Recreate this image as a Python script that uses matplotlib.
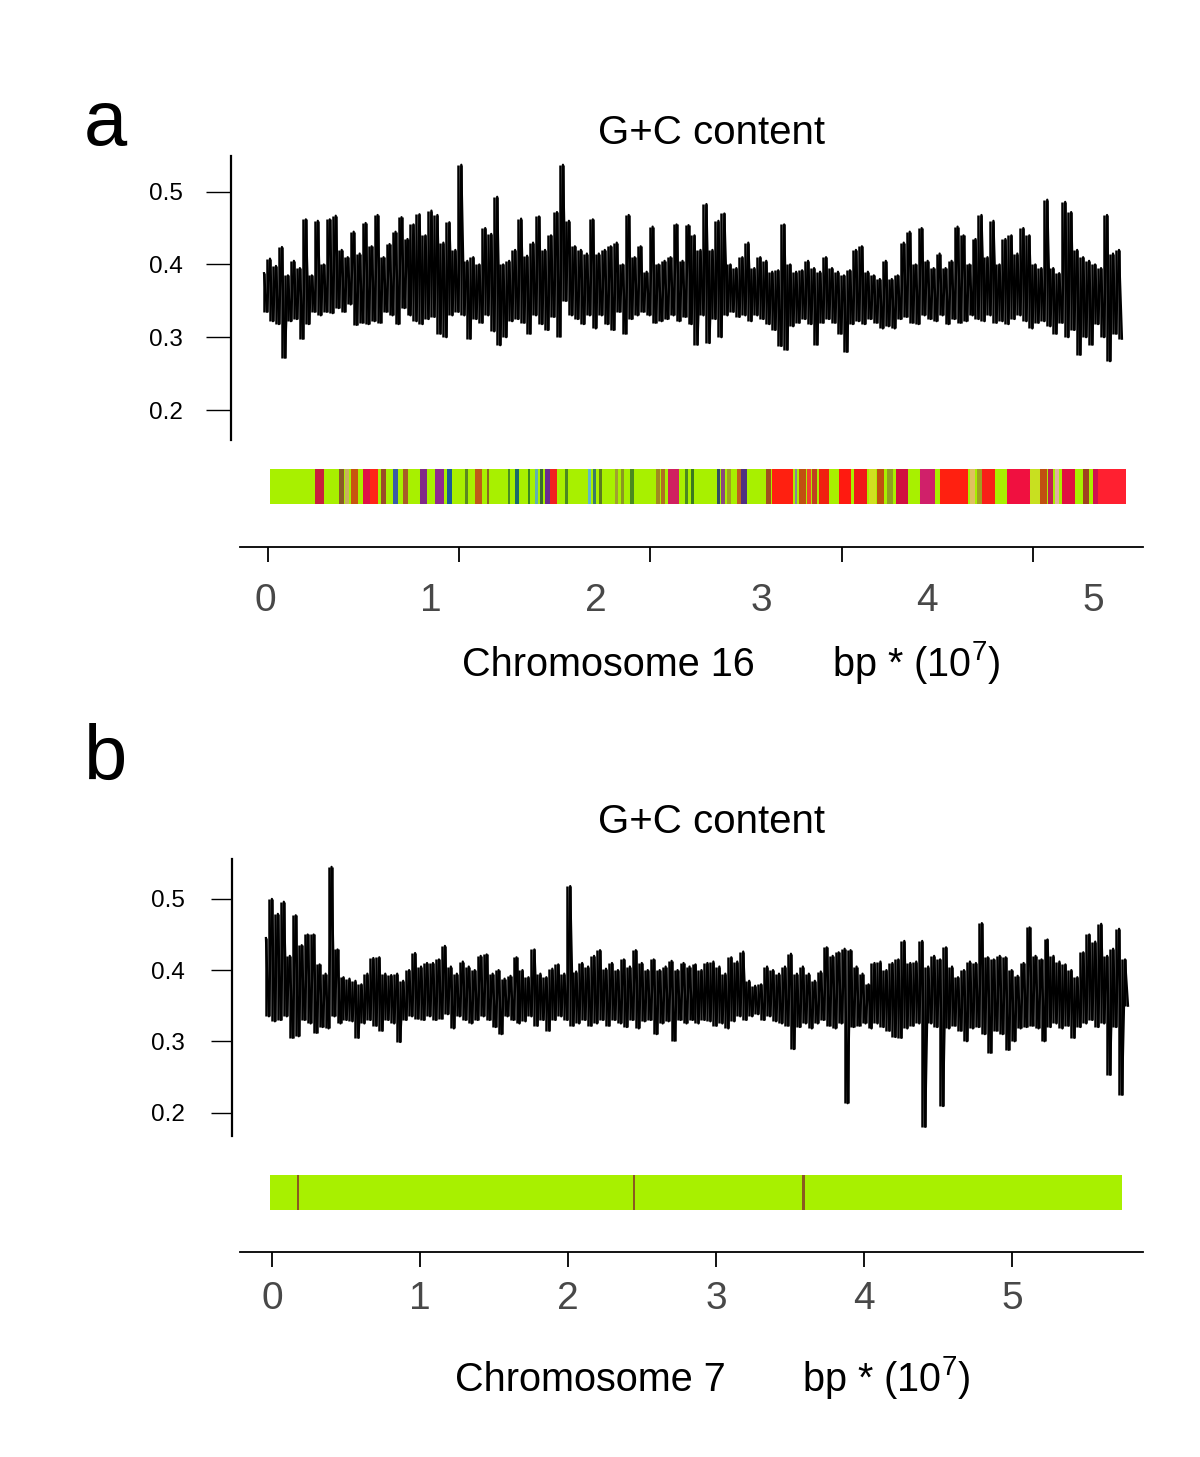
import numpy as np
import matplotlib.pyplot as plt

W, H = 1200, 1457
LIME = '#a8f000'
NARROW = ['Liberation Sans Narrow', 'Liberation Sans', 'DejaVu Sans']
plt.rcParams['font.family'] = ['Liberation Sans', 'DejaVu Sans']

# ---------------- panel a : chromosome 16 ----------------
# G+C trace read as alternating local maxima / minima (x1000)
gc_a_hi = [388, 408, 398, 424, 385, 405, 395, 462, 385, 460, 400, 462, 467, 420, 410, 445,
           415, 457, 425, 468, 410, 428, 445, 465, 435, 455, 469, 440, 474, 468, 430, 458,
           420, 537, 405, 410, 400, 450, 442, 493, 400, 405, 420, 463, 412, 430, 466, 420,
           440, 472, 537, 460, 425, 420, 415, 462, 415, 420, 425, 430, 400, 468, 410, 425,
           390,
           452, 400, 405, 410, 455, 405, 454, 440, 420, 483, 420, 460, 470, 400, 395, 410,
           430, 395, 410, 405, 390, 392, 455, 400, 390, 392, 405, 395, 390, 410, 395, 390,
           385, 392, 420, 425, 390, 385, 380, 405, 380, 385, 430, 445, 400, 450, 405, 395,
           415, 395, 405, 452, 440, 400, 435, 468, 410, 460, 400, 435, 440, 415, 450, 440,
           400, 395, 489, 395, 388, 486, 472, 420, 410, 405, 400, 395, 468, 415, 420]
gc_a_lo = [335, 322, 318, 272, 322, 325, 298, 318, 335, 330, 335, 333, 340, 335, 345, 317,
           320, 318, 322, 320, 335, 330, 318, 340, 330, 322, 318, 325, 328, 305, 300, 330,
           335, 330, 298, 325, 320, 330, 308, 289, 300, 322, 325, 320, 305, 330, 318, 310,
           328, 301, 350, 330, 325, 318, 330, 312, 330, 318, 310, 335, 305, 325, 330, 335,
           330,
           320, 322, 325, 330, 322, 328, 318, 290, 330, 292, 325, 300, 330, 335, 328, 330,
           322, 330, 325, 318, 310, 288, 283, 315, 320, 325, 318, 290, 320, 325, 320, 305,
           280, 318, 322, 318, 325, 320, 312, 315, 312, 325, 328, 320, 318, 330, 325, 322,
           330, 318, 325, 320, 322, 330, 325, 322, 330, 320, 322, 318, 325, 330, 322, 312,
           320, 322, 315, 305, 320, 300, 310, 276, 300, 290, 318, 300, 267, 305, 298]
trace_a = (-0.006, 5.175)          # 10^7 bp
band_a = (0.030, 5.199)
stripe_a_start = [0.302, 0.447, 0.483, 0.519, 0.592, 0.634, 0.701, 0.773, 0.833, 0.936,
                  1.027, 1.099, 1.208, 1.268, 1.341, 1.467, 1.510, 1.588, 1.631, 1.661,
                  1.691, 1.721, 1.812, 1.951, 1.981, 2.017, 2.114, 2.150, 2.204, 2.361,
                  2.391, 2.434, 2.536, 2.573, 2.730, 2.754, 2.790, 2.850, 2.875, 3.026,
                  3.062, 3.201, 3.225, 3.273, 3.303, 3.346, 3.466, 3.557, 3.647, 3.696,
                  3.756, 3.811, 3.955, 4.076, 4.257, 4.300, 4.330, 4.481, 4.620, 4.680,
                  4.728, 4.771, 4.813, 4.940, 5.000, 5.030]
stripe_a_end = [0.356, 0.477, 0.507, 0.562, 0.634, 0.682, 0.731, 0.803, 0.864, 0.978,
                1.081, 1.129, 1.226, 1.310, 1.353, 1.480, 1.534, 1.600, 1.649, 1.679,
                1.721, 1.763, 1.830, 1.969, 1.999, 2.035, 2.132, 2.168, 2.228, 2.385,
                2.415, 2.500, 2.554, 2.591, 2.748, 2.778, 2.814, 2.875, 2.911, 3.056,
                3.189, 3.213, 3.267, 3.297, 3.333, 3.406, 3.539, 3.635, 3.690, 3.738,
                3.792, 3.883, 4.046, 4.245, 4.288, 4.330, 4.408, 4.620, 4.680, 4.722,
                4.759, 4.795, 4.891, 4.976, 5.030, 5.199]
stripe_a_color = ['#c8203c', '#8a5a28', '#c8b060', '#c85410', '#e01048', '#ff2418', '#9a4a28',
                  '#3a5aa8', '#a85a28', '#802a88', '#902890', '#1a5a98', '#5a8a20', '#c05a18',
                  '#8a6a20', '#4a9020', '#1a6a6a', '#3a8a20', '#60b0b0', '#3a6a30', '#6a2a90',
                  '#f02020', '#4a8a20', '#60b8c8', '#3a7a6a', '#5a7a20', '#a0a030', '#8a9a20',
                  '#4a8a20', '#a08a20', '#b07020', '#d02060', '#4a8a20', '#3a7a20', '#305060',
                  '#8a4a7a', '#a0a020', '#c06020', '#503080', '#a05020', '#ff2010', '#8a80a0',
                  '#c05010', '#f04030', '#c04020', '#f02010', '#ff1a10', '#f01818', '#d0e020',
                  '#c05010', '#90a020', '#d01040', '#d0206a', '#ff2010', '#e0c060', '#a0a020',
                  '#f82018', '#f01040', '#c8e020', '#c05010', '#c02050', '#e0b0a0', '#e01040',
                  '#a04020', '#d01050', '#ff2030']

# ---------------- panel b : chromosome 7 ----------------
gc_b_hi = [445, 500, 479, 496, 420, 477, 435, 450, 450, 408, 395, 545, 429, 390, 388, 385,
           380, 395, 417, 418, 395, 393, 395, 385, 400, 424, 405, 410, 410, 415, 434, 405,
           395, 412, 405, 400, 420, 422, 395, 400, 388, 392, 418, 400, 390, 429, 395, 390,
           402, 408, 395, 518, 398, 410, 405, 420, 428, 402, 410, 400, 415, 405, 428, 410,
           400,
           415, 400, 405, 413, 400, 410, 405, 408, 400, 410, 412, 405, 395, 418, 412, 426,
           385, 378, 380, 405, 400, 395, 405, 423, 395, 405, 395, 385, 398, 432, 420, 425,
           430, 428, 405, 395, 380, 410, 412, 400, 410, 415, 441, 410, 412, 441, 405, 420,
           415, 432, 405, 390, 400, 412, 410, 466, 418, 415, 420, 418, 400, 392, 410, 460,
           420, 415, 443, 420, 412, 408, 400, 390, 425, 450, 440, 465, 420, 430, 458, 415]
gc_b_lo = [335, 328, 330, 335, 305, 307, 330, 325, 312, 320, 318, 335, 325, 330, 328, 305,
           325, 330, 322, 315, 330, 325, 299, 330, 335, 332, 330, 335, 330, 332, 338, 318,
           335, 330, 325, 330, 335, 330, 320, 310, 335, 330, 325, 328, 335, 322, 330, 315,
           330, 335, 330, 322, 325, 330, 322, 325, 330, 322, 330, 325, 320, 330, 318, 328,
           330,
           310, 325, 328, 301, 330, 325, 330, 325, 330, 328, 322, 325, 318, 328, 335, 330,
           335, 338, 330, 335, 328, 325, 322, 289, 320, 325, 318, 325, 330, 322, 318, 325,
           213, 320, 322, 325, 318, 325, 320, 315, 306, 305, 318, 322, 325, 180, 325, 320,
           209, 318, 322, 315, 300, 318, 320, 310, 284, 315, 310, 288, 300, 318, 320, 322,
           318, 300, 320, 325, 318, 322, 305, 320, 325, 330, 320, 325, 253, 320, 225, 350]
trace_b = (-0.041, 5.784)
band_b = (-0.014, 5.743)
stripe_b_start = [0.169, 2.439, 3.578]
stripe_b_end = [0.183, 2.453, 3.598]
stripe_b_color = ['#8a5a20', '#8a5a20', '#8a5a20']

tick_labels = ['0', '1', '2', '3', '4', '5']
y_ticks = [0.2, 0.3, 0.4, 0.5]


def box(l, t, r, b):
    return [l / W, 1 - b / H, (r - l) / W, (b - t) / H]


def draw_trace(ax, hi, lo, span):
    y = np.empty(2 * len(hi))
    y[0::2] = np.array(hi) / 1000
    y[1::2] = np.array(lo) / 1000
    x = np.linspace(span[0], span[1], len(y))
    # vertical strokes between neighbouring extremes fill the dense core
    ax.vlines(x[:-1], np.minimum(y[:-1], y[1:]), np.maximum(y[:-1], y[1:]),
              color='black', lw=1.8)
    ax.plot(x, y, color='black', lw=1.6)


def panel(fig, letter, p, hi, lo, span, band, s0, s1, cols):
    org, ppu = p['org'], p['ppu']
    xl = lambda l, r: ((l - org) / ppu, (r - org) / ppu)

    fig.text(84 / W, 1 - p['letter_y'] / H, letter, fontsize=56, va='baseline')
    fig.text(711 / W, 1 - p['title_y'] / H, 'G+C content', fontsize=29,
             ha='center', va='center')

    ax = fig.add_axes(box(p['spine_x'], p['top'], 1140, p['bot']))
    draw_trace(ax, hi, lo, span)
    ax.set_xlim(*xl(p['spine_x'], 1140))
    ax.set_ylim(*p['ylim'])
    for s in ['top', 'right', 'bottom']:
        ax.spines[s].set_visible(False)
    ax.spines['left'].set_linewidth(1.6)
    ax.set_xticks([])
    ax.set_yticks(y_ticks)
    ax.set_yticklabels(['%.1f' % v for v in y_ticks])
    ax.tick_params(axis='y', length=p['ytl'], width=1, pad=p['ypad'], labelsize=17.5)

    bx = fig.add_axes(box(240, p['band_t'], 1143, p['band_t'] + 35))
    bx.set_xlim(*xl(240, 1143))
    bx.set_ylim(0, 1)
    bx.axis('off')
    bx.broken_barh([(band[0], band[1] - band[0])], (0, 1), facecolors=LIME)
    bx.broken_barh([(a, b - a) for a, b in zip(s0, s1)], (0, 1), facecolors=cols)

    xa = fig.add_axes(box(240, p['axis_y'] - 30, 1143, p['axis_y']))
    xa.set_xlim(*xl(240, 1143))
    for s in ['top', 'right', 'left']:
        xa.spines[s].set_visible(False)
    xa.spines['bottom'].set_linewidth(1.3)
    xa.set_yticks([])
    xa.set_xticks(range(len(tick_labels)))
    xa.set_xticklabels(tick_labels, family=NARROW, fontsize=28, color='#484848')
    if p.get('tick_org') is None:
        xa.tick_params(axis='x', length=11, width=1.3, pad=10)
    else:
        # tick marks of the original axis sit on their own scale
        t0, tp = p['tick_org'], p['tick_ppu']
        fwd = lambda v: (org + ppu * v - t0) / tp
        inv = lambda t: (t0 + tp * t - org) / ppu
        xa.tick_params(axis='x', length=0, pad=26)
        sec = xa.secondary_xaxis('bottom', functions=(fwd, inv))
        sec.set_xticks(range(5))
        sec.tick_params(axis='x', length=11, width=1.3, labelbottom=False)
        sec.spines['bottom'].set_visible(False)

    fig.text(p['chr_x'] / W, 1 - p['lab_y'] / H, p['chr'], fontsize=28.5,
             family=NARROW, va='baseline')
    fig.text(p['bp_x'] / W, 1 - p['lab_y'] / H, r'bp * (10$^{\mathregular{7}}$)',
             fontsize=28.5, family=NARROW, va='baseline')


fig = plt.figure(figsize=(12, 14.57), dpi=100)

layout_a = dict(org=265, ppu=165.6, letter_y=145, title_y=133, spine_x=231, top=156,
                bot=440, ylim=(0.1588, 0.549), ytl=18, ypad=17, band_t=469, axis_y=547,
                tick_org=268, tick_ppu=191.2, chr_x=462, bp_x=832, lab_y=676,
                chr='Chromosome 16')
layout_b = dict(org=272, ppu=148.0, letter_y=780, title_y=822, spine_x=232, top=859,
                bot=1136, ylim=(0.167, 0.556), ytl=15, ypad=19, band_t=1175, axis_y=1252,
                tick_org=None, chr_x=455, bp_x=802, lab_y=1391, chr='Chromosome 7')

panel(fig, 'a', layout_a, gc_a_hi, gc_a_lo, trace_a, band_a,
      stripe_a_start, stripe_a_end, stripe_a_color)
panel(fig, 'b', layout_b, gc_b_hi, gc_b_lo, trace_b, band_b,
      stripe_b_start, stripe_b_end, stripe_b_color)

fig.savefig('out.png', dpi=100, facecolor='white')
